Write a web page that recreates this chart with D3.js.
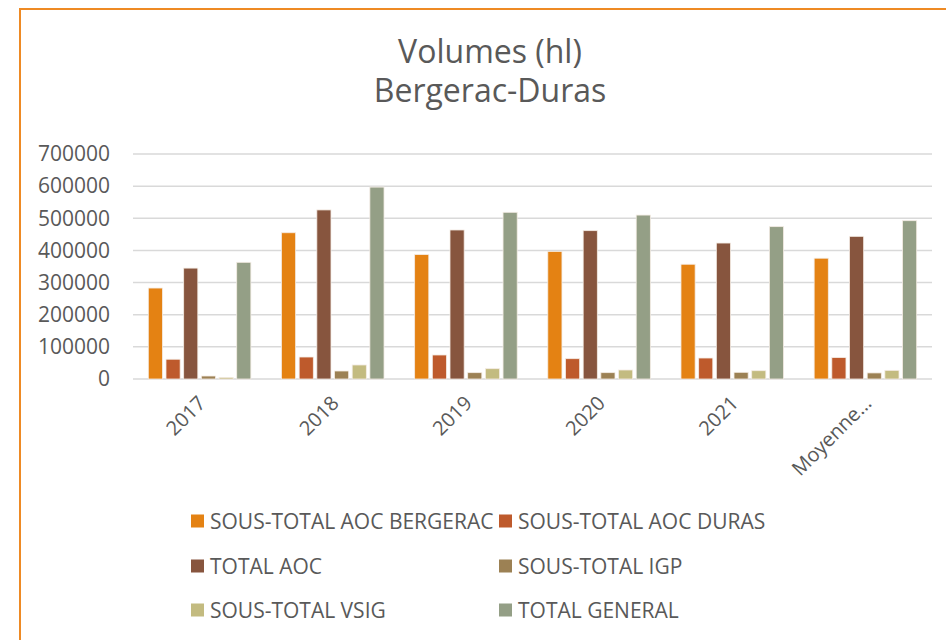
<!DOCTYPE html>
<html>
<head>
<meta charset="utf-8">
<script src="https://cdn.jsdelivr.net/npm/d3@7"></script>
<style>
  body { margin: 0; background: #fff; }
  text { font-family: "Open Sans", sans-serif; fill: #595959; }
</style>
</head>
<body>
<div id="chart"></div>
<script>
const categories = ["2017", "2018", "2019", "2020", "2021", "Moyenne…"];
const seriesNames = [
  "SOUS-TOTAL AOC BERGERAC",
  "SOUS-TOTAL AOC DURAS",
  "TOTAL AOC",
  "SOUS-TOTAL IGP",
  "SOUS-TOTAL VSIG",
  "TOTAL GENERAL",
];
const seriesColors = ["#E48213", "#BE5A2C", "#87553E", "#9C8154", "#C3BB80", "#949F86"];
const aocBergerac = [283000, 455000, 387000, 397000, 357000, 375800];
const aocDuras = [61500, 68400, 74700, 63200, 65300, 66600];
const totalAoc = [345000, 526000, 463600, 461500, 423000, 443800];
const igp = [9300, 24900, 19700, 19700, 20800, 18900];
const vsig = [5000, 43600, 32100, 28000, 25800, 26900];
const totalGeneral = [363000, 597000, 518600, 510000, 474000, 492500];
const yTicks = [0, 100000, 200000, 300000, 400000, 500000, 600000, 700000];

(function () {
  "use strict";
  const series = [aocBergerac, aocDuras, totalAoc, igp, vsig, totalGeneral];
  const svgWidth = 946, svgHeight = 640;
  const plot = { left: 133, right: 932, top: 154, bottom: 379 };

  const svg = d3
    .select("#chart")
    .append("svg")
    .attr("width", svgWidth)
    .attr("height", svgHeight);

  svg.append("rect")
    .attr("width", svgWidth).attr("height", svgHeight)
    .attr("fill", "#fff");

  // chart frame
  svg.append("rect")
    .attr("x", 20).attr("y", 9)
    .attr("width", 960).attr("height", 660)
    .attr("fill", "none")
    .attr("stroke", "#EE8A24")
    .attr("stroke-width", 2);

  // title
  const title = svg.append("text")
    .attr("x", 490)
    .attr("text-anchor", "middle")
    .style("font-size", "32px");
  title.append("tspan").attr("x", 490).attr("y", 63).text("Volumes (hl)");
  title.append("tspan").attr("x", 490).attr("y", 102).text("Bergerac-Duras");

  const x0 = d3.scaleBand()
    .domain(categories)
    .range([plot.left, plot.right])
    .paddingInner(0.23)
    .paddingOuter(0.115);
  const x1 = d3.scaleBand()
    .domain(d3.range(series.length))
    .range([0, x0.bandwidth()])
    .paddingInner(0.2);
  const y = d3.scaleLinear()
    .domain([0, 700000])
    .range([plot.bottom, plot.top]);

  // gridlines
  svg.append("g")
    .selectAll("line")
    .data(yTicks)
    .enter()
    .append("line")
    .attr("x1", plot.left).attr("x2", plot.right)
    .attr("y1", (d) => y(d)).attr("y2", (d) => y(d))
    .attr("stroke", "#D9D9D9")
    .attr("stroke-width", 1.5);

  // y axis labels
  const yAxis = d3.axisLeft(y).tickValues(yTicks).tickSize(0).tickPadding(0)
    .tickFormat(d3.format("d"));
  const yAxisContainer = svg.append("g")
    .attr("transform", "translate(110,0)")
    .call(yAxis);
  yAxisContainer.select(".domain").remove();
  yAxisContainer.selectAll("text")
    .style("font-size", "21px")
    .style("font-family", "'Open Sans', sans-serif")
    .attr("fill", "#595959");

  // bars
  const groups = svg.append("g")
    .selectAll("g")
    .data(categories)
    .enter()
    .append("g")
    .attr("transform", (d) => "translate(" + x0(d) + ",0)");
  groups.selectAll("rect")
    .data((d, i) => series.map((s, k) => ({ k: k, v: s[i] })))
    .enter()
    .append("rect")
    .attr("x", (d) => x1(d.k))
    .attr("width", x1.bandwidth())
    .attr("y", (d) => y(d.v))
    .attr("height", (d) => y(0) - y(d.v))
    .attr("fill", (d) => seriesColors[d.k])
    .attr("stroke", "#F4ECE4")
    .attr("stroke-width", 0.8);

  // x axis labels
  const xAxis = d3.axisBottom(x0).tickSize(0).tickPadding(0);
  const xAxisContainer = svg.append("g")
    .attr("transform", "translate(0," + (plot.bottom + 12) + ")")
    .call(xAxis);
  xAxisContainer.select(".domain").remove();
  xAxisContainer.selectAll("text")
    .style("font-size", "20px")
    .style("font-family", "'Open Sans', sans-serif")
    .attr("fill", "#595959")
    .attr("text-anchor", "end")
    .attr("dy", "0.7em")
    .attr("dx", "0.1em")
    .attr("transform", "translate(-4,5) rotate(-45)");

  // legend
  const legendCols = [191, 499];
  const legendRows = [521, 566, 610];
  const legend = svg.append("g")
    .selectAll("g")
    .data(seriesNames)
    .enter()
    .append("g")
    .attr("transform", (d, i) =>
      "translate(" + legendCols[i % 2] + "," + legendRows[Math.floor(i / 2)] + ")");
  legend.append("rect")
    .attr("x", 0).attr("y", -6.5)
    .attr("width", 13).attr("height", 13)
    .attr("fill", (d, i) => seriesColors[i]);
  legend.append("text")
    .attr("x", 19)
    .attr("dy", "0.36em")
    .style("font-size", "21px")
    .text((d) => d);
})();
</script>
</body>
</html>
